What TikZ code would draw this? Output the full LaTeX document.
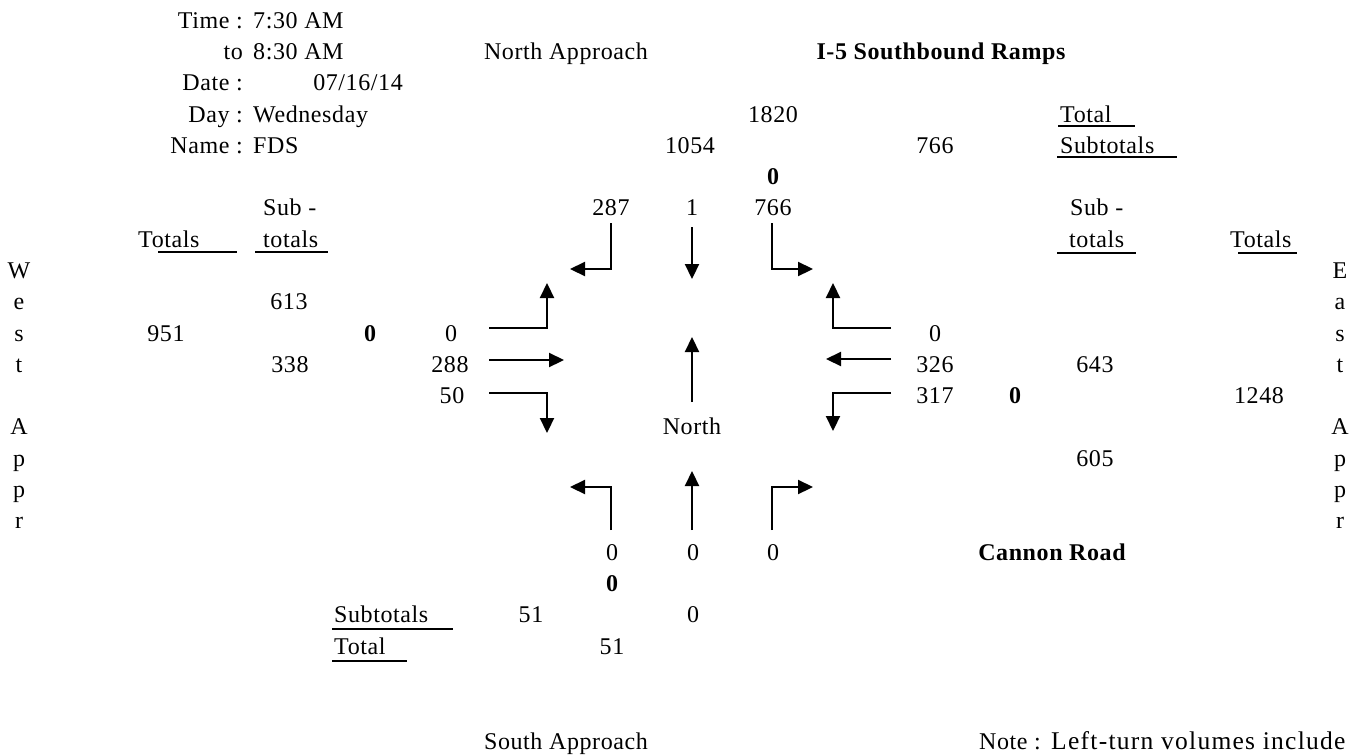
\documentclass[tikz,border=0pt]{standalone}
\usepackage{fontspec}
\setmainfont{Liberation Serif}[LetterSpace=2.5]
\usetikzlibrary{arrows.meta}
\begin{document}
\begin{tikzpicture}[x=1pt,y=-1pt,
  txt/.style={inner sep=0pt,anchor=base,font=\fontsize{24}{28}\selectfont},
  txtl/.style={txt,anchor=base west},
  txtr/.style={txt,anchor=base east},
  bld/.style={txt,font=\fontsize{24}{28}\selectfont\bfseries},
  uline/.style={line width=2pt},
  mov/.style={line width=2.2pt,line join=miter,-{Triangle[length=15pt,width=14pt]}}]
\useasboundingbox[fill=white] (0,0) rectangle (1363,755);

% header block
\node[txtr] (tl) at (243,28) {Time :};
\node[txtl] (tv) at (253,28) {7:30 AM};
\node[txtr] (ttl) at (243,59.3) {to};
\node[txtl] (ttv) at (253,59.3) {8:30 AM};
\node[txtr] (dl) at (243,90.6) {Date :};
\node[txtr] (dv) at (403,90.6) {07/16/14};
\node[txtr] (yl) at (243,122) {Day :};
\node[txtl] (yv) at (253,122) {Wednesday};
\node[txtr] (nl) at (243,153) {Name :};
\node[txtl] (nv) at (253,153) {FDS};

\node[txt] (napp) at (566,59.3) {North Approach};
\node[bld] (ramps) at (941,59.3) {I-5 Southbound Ramps};

% north approach totals
\node[txt] (n1820) at (773,122) {1820};
\node[txt] (n1054) at (690,153) {1054};
\node[txt] (n766a) at (935,153) {766};
\node[txtl] (ktot) at (1060,122) {Total};
\draw[uline] (1058,126) -- (1135,126);
\node[txtl] (ksub) at (1060,153) {Subtotals};
\draw[uline] (1057,157) -- (1177,157);
\node[bld] (nu) at (773,184.5) {0};
\node[txt] (nl287) at (611,215.8) {287};
\node[txt] (nt1) at (692,215.8) {1};
\node[txt] (nr766) at (773,215.8) {766};

% column headings
\node[txtl] (wsub1) at (263,215.8) {Sub -};
\node[txtl] (wsub2) at (263,247.1) {totals};
\draw[uline] (255,252) -- (328,252);
\node[txtl] (wtot) at (138,247.1) {Totals};
\draw[uline] (158,252) -- (237,252);
\node[txtl] (esub1) at (1070,215.8) {Sub -};
\node[txtl] (esub2) at (1069,247.1) {totals};
\draw[uline] (1057,253) -- (1136,253);
\node[txtl] (etot) at (1230,247.1) {Totals};
\draw[uline] (1238,253) -- (1297,253);

% side captions, one letter per row
\foreach \c/\r in {W/278.4,e/309.7,s/341,t/372.3,A/434.9,p/466.2,p/497.5,r/528.8}
  \node[txt] at (19,\r) {\c};
\foreach \c/\r in {E/278.4,a/309.7,s/341,t/372.3,A/434.9,p/466.2,p/497.5,r/528.8}
  \node[txt] at (1340,\r) {\c};

% west approach
\node[txt] (w613) at (289,309.7) {613};
\node[txt] (w951) at (166,341) {951};
\node[txt] (w338) at (290,372.3) {338};
\node[bld] (wu) at (370,341) {0};
\node[txt] (wl) at (451,341) {0};
\node[txt] (wt) at (450,372.3) {288};
\node[txt] (wr) at (452,403.6) {50};

% east approach
\node[txt] (el) at (935,341) {0};
\node[txt] (et) at (935,372.3) {326};
\node[txt] (er) at (935,403.6) {317};
\node[bld] (eu) at (1015,403.6) {0};
\node[txt] (e643) at (1095,372.3) {643};
\node[txt] (e1248) at (1259,403.6) {1248};
\node[txt] (e605) at (1095,466.2) {605};

\node[txt] (north) at (692,434.9) {North};

% south approach
\node[txt] (sl) at (612,560.1) {0};
\node[txt] (st) at (693,560.1) {0};
\node[txt] (sr) at (773,560.1) {0};
\node[bld] (su) at (612,591.4) {0};
\node[txtl] (ssub) at (334,622.7) {Subtotals};
\draw[uline] (332,629) -- (453,629);
\node[txt] (s51a) at (531,622.7) {51};
\node[txt] (s0) at (693,622.7) {0};
\node[txtl] (stot) at (334,654) {Total};
\draw[uline] (332,661) -- (407,661);
\node[txt] (s51b) at (612,654) {51};
\node[bld] (cannon) at (1052,560.1) {Cannon Road};

\node[txt] (sapp) at (566,749) {South Approach};
\node[txtl] (note) at (979,749) {Note :};
\node[txtl,font=\fontsize{25.5}{28}\selectfont] (notet) at (1051,749) {\addfontfeature{LetterSpace=5}Left-turn volumes include};

% turning-movement arrows
% north approach (southbound)
\coordinate (nlA) at (611,223); \coordinate (nlB) at (611,269); \coordinate (nlC) at (570,269);
\coordinate (ntA) at (692,227); \coordinate (ntB) at (692,279);
\coordinate (nrA) at (772,223); \coordinate (nrB) at (772,269); \coordinate (nrC) at (813,269);
\draw[mov] (nlA) -- (nlB) -- (nlC);
\draw[mov] (ntA) -- (ntB);
\draw[mov] (nrA) -- (nrB) -- (nrC);
% west approach (eastbound)
\coordinate (wlA) at (489,328); \coordinate (wlB) at (547,328); \coordinate (wlC) at (547,283);
\coordinate (wtA) at (489,360); \coordinate (wtB) at (564,360);
\coordinate (wrA) at (489,393); \coordinate (wrB) at (547,393); \coordinate (wrC) at (547,433);
\draw[mov] (wlA) -- (wlB) -- (wlC);
\draw[mov] (wtA) -- (wtB);
\draw[mov] (wrA) -- (wrB) -- (wrC);
% east approach (westbound)
\coordinate (elA) at (891,328); \coordinate (elB) at (833,328); \coordinate (elC) at (833,283);
\coordinate (etA) at (891,359); \coordinate (etB) at (826,359);
\coordinate (erA) at (891,393); \coordinate (erB) at (833,393); \coordinate (erC) at (833,431);
\draw[mov] (elA) -- (elB) -- (elC);
\draw[mov] (etA) -- (etB);
\draw[mov] (erA) -- (erB) -- (erC);
% south approach (northbound)
\coordinate (slA) at (611,530); \coordinate (slB) at (611,487); \coordinate (slC) at (570,487);
\coordinate (stA) at (692,530); \coordinate (stB) at (692,471);
\coordinate (srA) at (772,530); \coordinate (srB) at (772,487); \coordinate (srC) at (813,487);
\draw[mov] (slA) -- (slB) -- (slC);
\draw[mov] (stA) -- (stB);
\draw[mov] (srA) -- (srB) -- (srC);
% north indicator
\coordinate (naA) at (692,402); \coordinate (naB) at (692,337);
\draw[mov] (naA) -- (naB);
\end{tikzpicture}
\end{document}
